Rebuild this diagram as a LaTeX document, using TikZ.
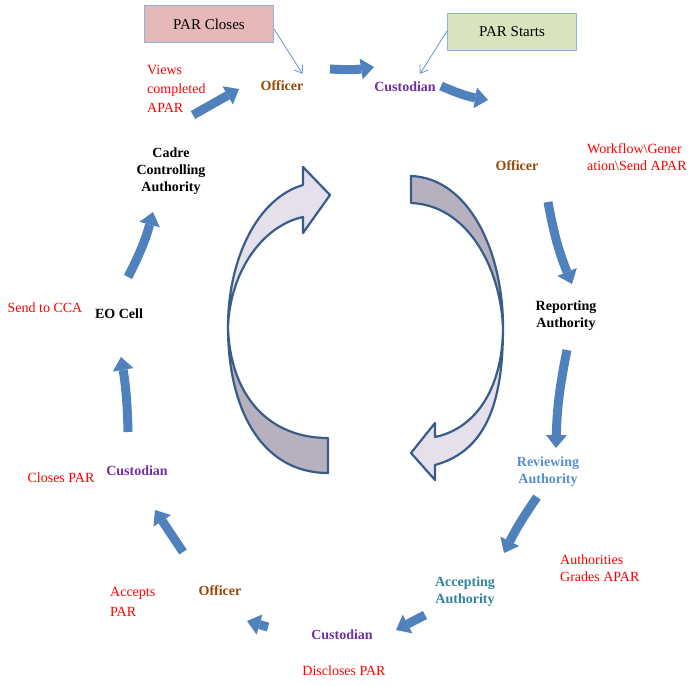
\documentclass[tikz,border=0pt]{standalone}
\usepackage{fontspec}
\setmainfont{Liberation Serif}
\usepackage{tikz}
\usetikzlibrary{arrows.meta}
\usepackage{xcolor}
\definecolor{flowblue}{RGB}{79,129,189}
\definecolor{ringline}{RGB}{56,93,138}
\definecolor{frontfill}{RGB}{229,224,236}
\definecolor{backfill}{RGB}{183,176,190}
\definecolor{offbrown}{RGB}{152,72,7}
\definecolor{cuspurple}{RGB}{112,48,160}
\definecolor{revblue}{RGB}{85,142,213}
\definecolor{accteal}{RGB}{49,133,156}
\definecolor{closefill}{RGB}{230,185,184}
\definecolor{startfill}{RGB}{215,228,189}
\definecolor{boxline}{RGB}{141,179,226}

\begin{document}
\begin{tikzpicture}[x=1pt,y=-1pt,line cap=butt,
  every node/.style={font=\fontsize{14}{17}\selectfont,inner sep=1pt},
  role/.style={font=\fontsize{14}{17}\selectfont\bfseries,align=center},
  note/.style={text=red,align=left},
  parbox/.style={draw=boxline,line width=1pt,minimum width=129pt,minimum height=37pt,font=\fontsize{15}{18}\selectfont},
  flow/.style={draw=flowblue,line width=9pt,-{Triangle[width=21pt,length=13pt,line width=0pt]}},
  callout/.style={draw=flowblue!85,line width=0.8pt,-{Straight Barb[length=7pt,width=10pt]}},
  ring/.style={draw=ringline,line width=2.2pt,line join=round}]
\useasboundingbox (0,0) rectangle (693,685);
% two boxes at the top
\node[parbox,fill=closefill] (closes) at (209,24) {PAR Closes};
\node[parbox,fill=startfill] (starts) at (512,32) {PAR Starts};
% stations round the cycle
\node[role,text=offbrown] (off1) at (282,86) {Officer};
\node[role,text=cuspurple] (cus1) at (405,87) {Custodian};
\node[role,text=offbrown] (off2) at (517,166) {Officer};
\node[role] (rep) at (566,316) {Reporting\\Authority};
\node[role,text=revblue] (rev) at (548,472) {Reviewing\\Authority};
\node[role,text=accteal] (acc) at (465,592) {Accepting\\Authority};
\node[role,text=cuspurple] (cus2) at (342,635) {Custodian};
\node[role,text=offbrown] (off3) at (220,591) {Officer};
\node[role,text=cuspurple] (cus3) at (137,471) {Custodian};
\node[role] (eo) at (119,314) {EO Cell};
\node[role] (cca) at (171,171) {Cadre\\Controlling\\Authority};
% what happens at each step
\node[note,anchor=west,font=\fontsize{14}{19}\selectfont] (views) at (146,89) {Views\\completed\\APAR};
\node[note,anchor=west] (wflow) at (586,157) {Workflow\textbackslash Gener\\ation\textbackslash Send APAR};
\node[note,anchor=west] (grades) at (559,568) {Authorities\\Grades APAR};
\node[note] (discl) at (344,671) {Discloses PAR};
\node[note,anchor=west,font=\fontsize{14}{20}\selectfont] (accepts) at (109,602) {Accepts\\PAR};
\node[note] (closep) at (61,478) {Closes PAR};
\node[note] (send) at (45,308) {Send to CCA};
% callouts
\draw[callout] ([yshift=-5pt]closes.east) -- ([xshift=-2pt,yshift=6pt]off1.north east);
\draw[callout] ([yshift=1pt]starts.west) -- ([xshift=15pt,yshift=7pt]cus1.north);
% end points of the block arrows
\coordinate (a1) at (193,115); \coordinate (b1) at (239,89);
\coordinate (a2) at (330,69);  \coordinate (b2) at (374,67);
\coordinate (a3) at (441,86);  \coordinate (b3) at (488,100);
\coordinate (a4) at (548,202); \coordinate (b4) at (572,284);
\coordinate (a5) at (567,350); \coordinate (b5) at (556,448);
\coordinate (a6) at (537,497); \coordinate (b6) at (504,553);
\coordinate (a7) at (425,615); \coordinate (b7) at (396,630);
\coordinate (a8) at (268,627); \coordinate (b8) at (247,621);
\coordinate (a9) at (183,552); \coordinate (b9) at (155,510);
\coordinate (a10) at (128,432); \coordinate (b10) at (121,357);
\coordinate (a11) at (128,277); \coordinate (b11) at (153,212);
\draw[flow] (a1) -- (b1);
\draw[flow] (a2) to[bend right=6] (b2);
\draw[flow] (a3) to[bend right=7] (b3);
\draw[flow] (a4) to[bend right=6] (b4);
\draw[flow] (a5) to[bend right=5] (b5);
\draw[flow] (a6) to[bend right=4] (b6);
\draw[flow] (a7) -- (b7);
\draw[flow] (a8) -- (b8);
\draw[flow] (a9) -- (b9);
\draw[flow] (a10) to[bend right=4] (b10);
\draw[flow] (a11) to[bend right=6] (b11);
% the two big curved arrows in the middle
\filldraw[ring,fill=backfill] (228,327) .. controls (230,395) and (268,438) .. (328,438)
  -- (328,473) .. controls (262,473) and (228,410) .. (228,327) -- cycle;
\filldraw[ring,fill=frontfill] (303,185) .. controls (258,198) and (228,258) .. (228,327)
  .. controls (230,272) and (262,226) .. (303,217) -- (303,233) -- (330,195) -- (303,167) -- cycle;
\filldraw[ring,fill=backfill] (411,176) .. controls (468,178) and (503,250) .. (503,327)
  .. controls (500,265) and (466,205) .. (411,203) -- cycle;
\filldraw[ring,fill=frontfill] (503,327) .. controls (503,385) and (478,428) .. (435,437)
  -- (435,423) -- (411,453) -- (435,480) -- (435,465) .. controls (490,450) and (503,395) .. (503,327) -- cycle;
\end{tikzpicture}
\end{document}
